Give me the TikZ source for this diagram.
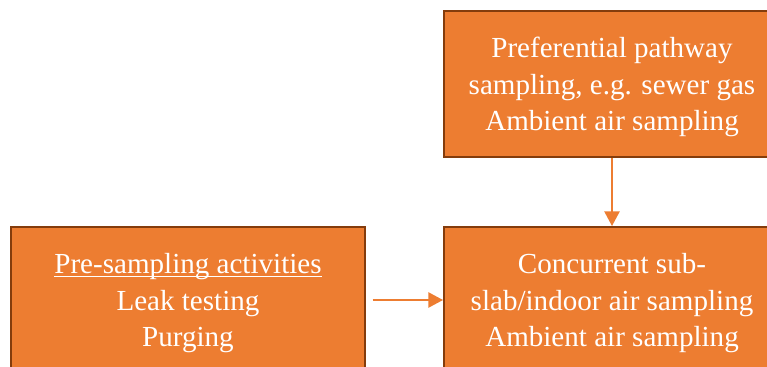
\documentclass[tikz,border=0pt]{standalone}
\usepackage{fontspec}
\setmainfont{Liberation Serif}
\usetikzlibrary{arrows.meta}

\definecolor{boxfill}{HTML}{ED7D31}
\definecolor{boxline}{HTML}{843C0C}

% underline that sits just under the baseline
\newcommand\baseunder[1]{\setbox0\hbox{#1}\leavevmode\rlap{\rule[-2.6pt]{\wd0}{0.9pt}}\box0}

\tikzset{every picture/.style={line width=0.75pt}}
\tikzset{
  stagebox/.style={draw=boxline, fill=boxfill, line width=1.5pt, text=white,
    align=center, inner sep=0pt, text depth=-0.5pt, font=\fontsize{21.8}{27.4}\selectfont},
  flow/.style={draw=boxfill, line width=1.1pt, -{Triangle[length=11pt,width=11.5pt]}}
}

\begin{document}
\begin{tikzpicture}[x=0.75pt,y=0.75pt,yscale=-1,xscale=1]
%set diagram to 767 x 367
\clip (0,0) rectangle (767,367);

% Boxes
\node [stagebox, minimum width=336*0.75pt, minimum height=146*0.75pt] (pathway) at (612,84)
  {Preferential pathway\\sampling, e.g. sewer gas\\Ambient air sampling};
\node [stagebox, minimum width=336*0.75pt, minimum height=146*0.75pt] (concurrent) at (612,300)
  {Concurrent sub-\\slab/indoor air sampling\\Ambient air sampling};
\node [stagebox, minimum width=354*0.75pt, minimum height=146*0.75pt] (presampling) at (188,300)
  {\baseunder{Pre-sampling activities}\\Leak testing\\Purging};

% Arrows
\draw [flow] (pathway.south) -- (concurrent.north);
\draw [flow, shorten <=5pt] (presampling.east) -- (concurrent.west);

\end{tikzpicture}
\end{document}
